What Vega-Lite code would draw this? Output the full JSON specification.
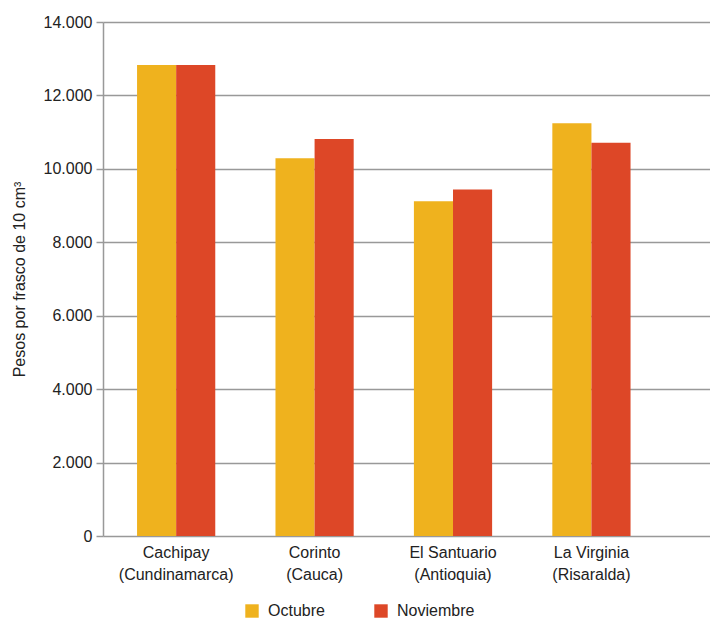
{
  "$schema": "https://vega.github.io/schema/vega-lite/v6.json",
  "autosize": {"type": "none"},
  "width": 607,
  "height": 514,
  "padding": {"left": 103, "top": 22, "right": 0, "bottom": 84},
  "background": "white",
  "data": {"values": [
    {"lugar": "Cachipay (Cundinamarca)", "mes": "Octubre", "precio": 12830},
    {"lugar": "Cachipay (Cundinamarca)", "mes": "Noviembre", "precio": 12830},
    {"lugar": "Corinto (Cauca)", "mes": "Octubre", "precio": 10290},
    {"lugar": "Corinto (Cauca)", "mes": "Noviembre", "precio": 10815},
    {"lugar": "El Santuario (Antioquia)", "mes": "Octubre", "precio": 9120},
    {"lugar": "El Santuario (Antioquia)", "mes": "Noviembre", "precio": 9440},
    {"lugar": "La Virginia (Risaralda)", "mes": "Octubre", "precio": 11240},
    {"lugar": "La Virginia (Risaralda)", "mes": "Noviembre", "precio": 10710}
  ]},
  "mark": {"type": "bar"},
  "encoding": {
    "x": {
      "field": "lugar", "type": "nominal", "sort": null,
      "scale": {"paddingInner": 0.435, "paddingOuter": 0.41, "align": 0.3},
      "axis": {
        "title": null, "labelAngle": 0, "ticks": false, "grid": false, "domain": false,
        "labelFont": "Liberation Sans", "labelFontSize": 16, "labelColor": "#222222",
        "labelPadding": 8, "labelLineHeight": 22,
        "labelExpr": "[split(datum.label, ' (')[0], '(' + split(datum.label, ' (')[1]]"
      }
    },
    "xOffset": {"field": "mes", "type": "nominal", "sort": ["Octubre", "Noviembre"], "scale": {"paddingInner": 0, "paddingOuter": 0}},
    "y": {
      "field": "precio", "type": "quantitative",
      "scale": {"domain": [0, 14000], "nice": false},
      "axis": {
        "values": [0, 2000, 4000, 6000, 8000, 10000, 12000, 14000],
        "title": "Pesos por frasco de 10 cm³",
        "titleFont": "Liberation Sans", "titleFontSize": 16, "titleFontWeight": "normal", "titleColor": "#222222",
        "titlePadding": 16,
        "labelFont": "Liberation Sans", "labelFontSize": 16, "labelColor": "#222222",
        "labelPadding": 4,
        "labelExpr": "replace(format(datum.value, ','), ',', '.')",
        "tickSize": 7, "tickColor": "#999999", "tickWidth": 1.5,
        "domainColor": "#999999", "domainWidth": 1.5,
        "grid": true, "gridColor": "#999999", "gridWidth": 1.5
      }
    },
    "color": {
      "field": "mes", "type": "nominal", "sort": ["Octubre", "Noviembre"],
      "scale": {"domain": ["Octubre", "Noviembre"], "range": ["#EFB21E", "#DD4727"]},
      "legend": {
        "title": null, "orient": "none", "direction": "horizontal",
        "legendX": 141, "legendY": 581,
        "symbolType": "square", "symbolSize": 180, "symbolOpacity": 1,
        "labelFont": "Liberation Sans", "labelFontSize": 16, "labelColor": "#222222",
        "labelOffset": 8, "columnPadding": 48
      }
    }
  },
  "config": {"view": {"stroke": null}, "axisY": {"gridCap": "butt"}}
}
